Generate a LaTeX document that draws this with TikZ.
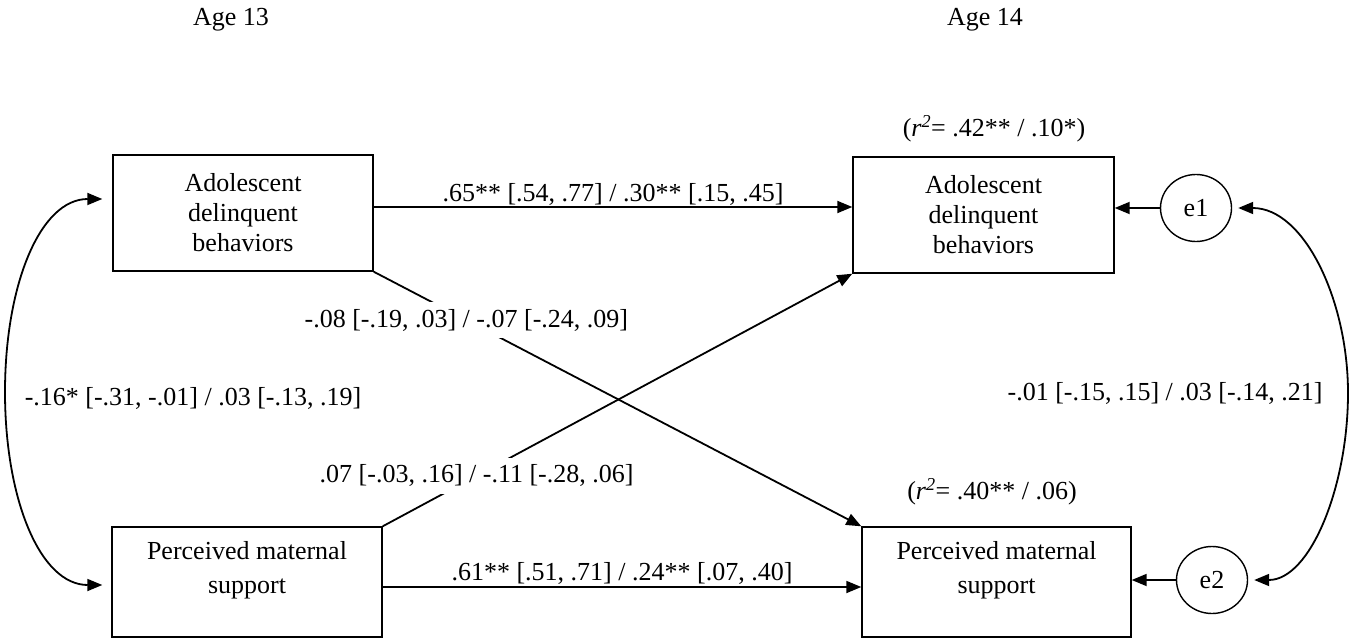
\documentclass[tikz,border=0pt]{standalone}
\usepackage{fontspec}
\setmainfont{Liberation Serif}
\usetikzlibrary{arrows.meta,shapes.geometric}
\begin{document}
\begin{tikzpicture}[x=1pt,y=-1pt,
  every node/.style={font=\fontsize{26}{30}\selectfont, inner sep=0pt},
  box/.style={draw, line width=1.4pt, inner sep=0pt, align=center},
  ptxt/.style={align=center, font=\fontsize{26}{34}\selectfont},
  err/.style={draw, ellipse, line width=1.4pt, minimum width=71pt, minimum height=67pt, inner sep=0pt},
  arr/.style={line width=1.8pt, -{Triangle[length=15pt,width=12pt]}},
  darr/.style={line width=1.8pt, {Triangle[length=15pt,width=12pt]}-{Triangle[length=15pt,width=12pt]}},
  lab/.style={fill=white, inner xsep=4pt, inner ysep=7pt}]
\fill[white] (0,0) rectangle (1355,639);
\useasboundingbox (0,0) rectangle (1355,639);

% headings
\node (age13) at (231,20) {Age 13};
\node (age14) at (985,20) {Age 14};

% boxes
\node[box, minimum width=260pt, minimum height=116pt] (a13) at (243,213) {Adolescent\\delinquent\\behaviors};
\node[box, minimum width=261pt, minimum height=116pt] (a14) at (983.5,215) {Adolescent\\delinquent\\behaviors};
\node[box, minimum width=270pt, minimum height=110pt] (p13) at (247,582) {};
\node[ptxt] (p13t) at (247,570) {Perceived maternal\\support};
\node[box, minimum width=269pt, minimum height=110pt] (p14) at (996.5,582) {};
\node[ptxt] (p14t) at (996.5,570) {Perceived maternal\\support};

% errors
\node[err] (e1) at (1196,208) {e1};
\node[err] (e2) at (1212,580) {e2};

% r squared
\node (r1) at (994,129) {(\textit{r\textsuperscript{2}}= .42** / .10*)};
\node (r2) at (992,492) {(\textit{r\textsuperscript{2}}= .40** / .06)};

% stability paths
\draw[arr] ([yshift=6pt]a13.east) -- ([yshift=6pt]a13.east -| a14.west)
  node[midway, anchor=base, yshift=5pt] (l65) {.65** [.54, .77] / .30** [.15, .45]};
\draw[arr] ([yshift=-5pt]p13.east) -- ([yshift=-5pt]p13.east -| p14.west)
  node[midway, anchor=base, yshift=7pt] (l61) {.61** [.51, .71] / .24** [.07, .40]};

% cross-lagged paths
\draw[arr] (a13.south east) -- (p14.north west)
  node[lab, pos=0.19] (l08) {-.08 [-.19, .03] / -.07 [-.24, .09]};
\draw[arr] (p13.north east) -- (a14.south west)
  node[lab, pos=0.2] (l07) {.07 [-.03, .16] / -.11 [-.28, .06]};

% error arrows
\draw[arr] (e1.west) -- (e1.west -| a14.east);
\draw[arr] (e2.west) -- (e2.west -| p14.east);

% covariances
\coordinate (la) at ([xshift=-10pt, yshift=14pt]a13.west);
\coordinate (lb) at ([xshift=-9pt, yshift=-3pt]p13.west);
\draw[darr] (la) .. controls (40,199) and (5,285) .. (5,392) .. controls (5,499) and (40,585) .. (lb);
\node (c1) at (193,398) {-.16* [-.31, -.01] / .03 [-.13, .19]};

\coordinate (ra) at ([xshift=6pt]e1.east);
\coordinate (rb) at ([xshift=6pt]e2.east);
\draw[darr] (ra) .. controls (1304,208) and (1348,300) .. (1348,393) .. controls (1348,487) and (1310,580) .. (rb);
\node (c2) at (1165,393) {-.01 [-.15, .15] / .03 [-.14, .21]};
\end{tikzpicture}
\end{document}
